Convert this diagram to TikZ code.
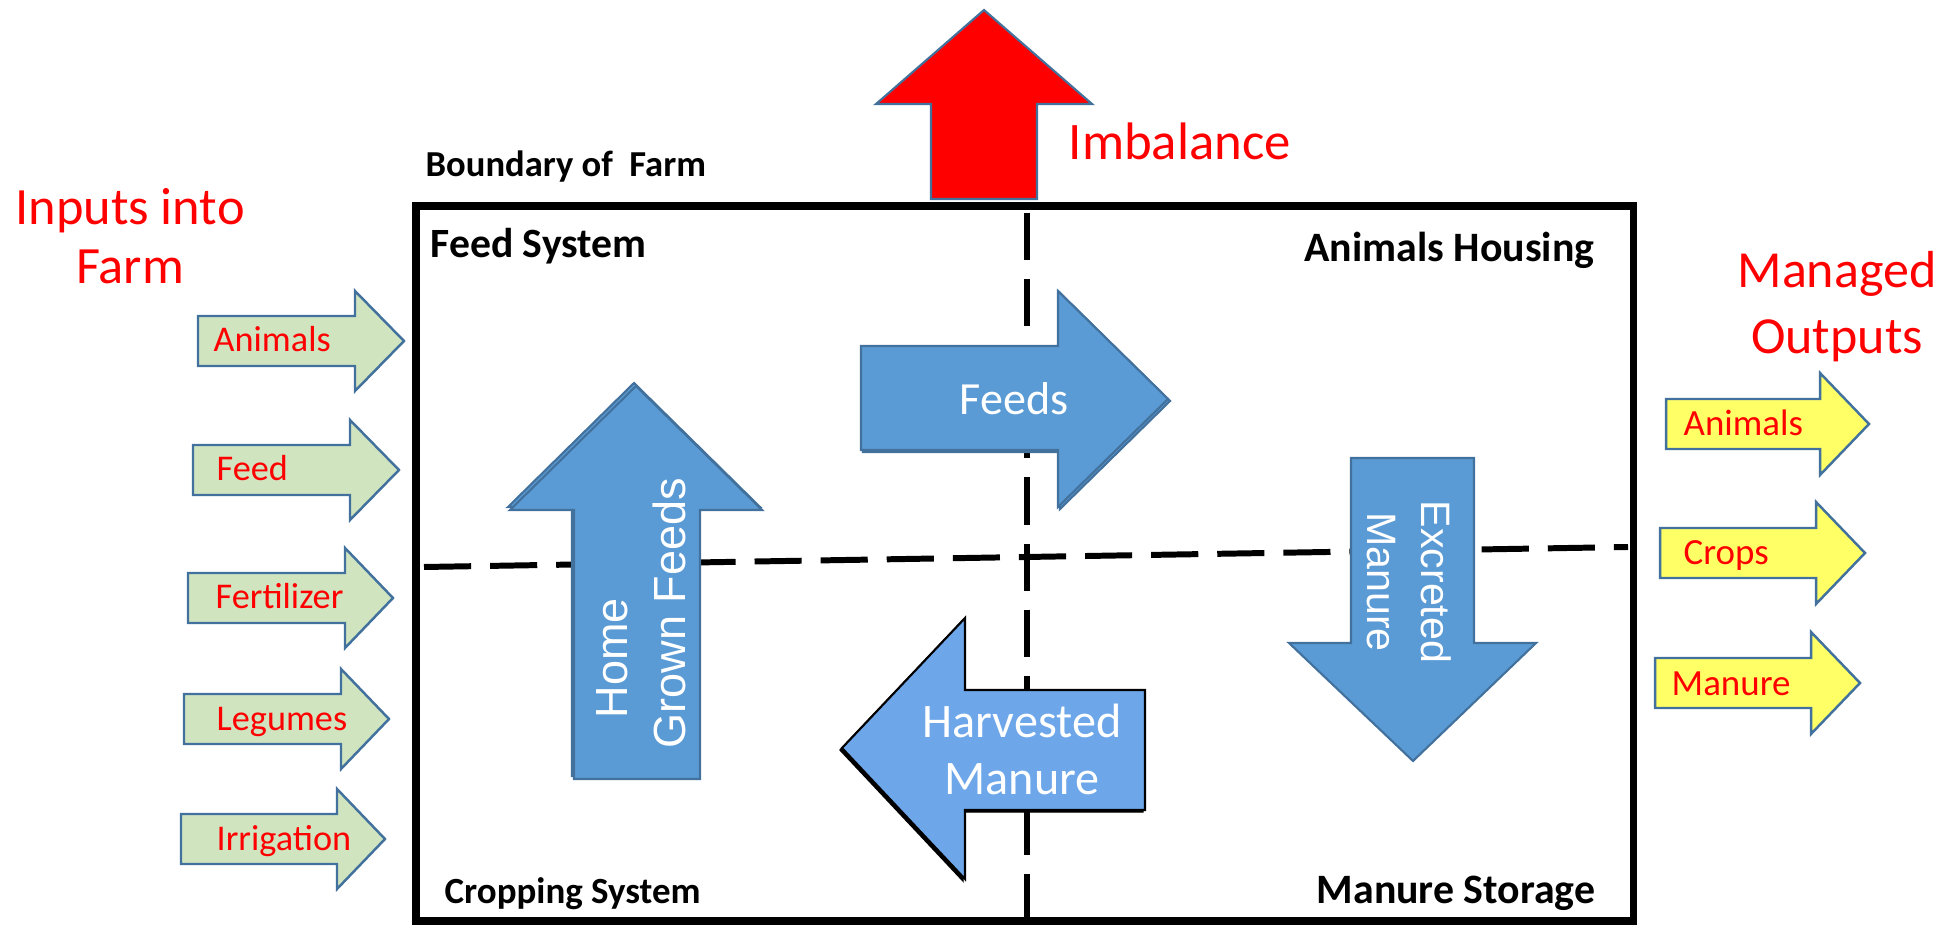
\documentclass[tikz,border=0pt]{standalone}
\usepackage{fontspec}
\setmainfont{Carlito}
\newfontfamily\arialfont{Liberation Sans}
\usepackage{tikz}

\definecolor{flowblue}{HTML}{5B9BD5}
\definecolor{flowedge}{HTML}{41719C}
\definecolor{manureblue}{HTML}{6DA7EA}
\definecolor{ingreen}{HTML}{D0E4C0}
\definecolor{outyellow}{HTML}{FFFF66}

\begin{document}
\begin{tikzpicture}[x=0.01cm, y=-0.01cm,
  inarrow/.style={draw=flowedge, fill=ingreen, line width=0.7pt},
  outarrow/.style={draw=flowedge, fill=outyellow, line width=0.7pt},
  flow/.style={draw=flowedge, fill=flowblue, line width=0.6pt},
  redlabel/.style={text=red, inner sep=0pt},
  zone/.style={font=\bfseries, inner sep=0pt},
  divider/.style={line width=1.7pt, dash pattern=on 13.4pt off 5.4pt}]
\useasboundingbox (0,0) rectangle (1949,925);

% dividing lines and boundary of the farm
\draw[divider] (1027,213) -- (1027,925);
\draw[divider] (424,567) -- (1628,547);
\draw[line width=2pt] (416,206) rectangle (1633,921);

\node[zone, anchor=base west, font=\bfseries\fontsize{10.4}{12}\selectfont] (boundary) at (425,177) {Boundary of~~Farm};
\node[zone, anchor=base west, font=\bfseries\fontsize{11.85}{14}\selectfont] (feedsys) at (430,258) {Feed System};
\node[zone, anchor=base east, font=\bfseries\fontsize{11.9}{14}\selectfont] (housing) at (1595,262) {Animals Housing};
\node[zone, anchor=base west, font=\bfseries\fontsize{10.5}{12}\selectfont] (cropsys) at (444,903) {Cropping System};
\node[zone, anchor=base east, font=\bfseries\fontsize{11.9}{14}\selectfont] (storage) at (1596,903) {Manure Storage};

% imbalance leaving the farm
\draw[draw=flowedge, fill=red, line width=0.6pt] (931,199) -- (931,104) -- (876,104) -- (984,10) -- (1092,104) -- (1037,104) -- (1037,199) -- cycle;
\node[redlabel, anchor=base west, font=\fontsize{15}{18}\selectfont] (imbalance) at (1068,160) {Imbalance};

% inputs (base anchor sits on the last line)
\node[redlabel, anchor=base, align=center, font=\fontsize{14.9}{17}\selectfont] (inputs) at (130,284) {Inputs into\\Farm};
\draw[inarrow] (198,316) -- (355,316) -- (355,291) -- (404,341) -- (355,391) -- (355,366) -- (198,366) -- cycle;
\draw[inarrow] (193,445) -- (350,445) -- (350,420) -- (399,470) -- (350,520) -- (350,495) -- (193,495) -- cycle;
\draw[inarrow] (188,573) -- (345,573) -- (345,548) -- (393,598) -- (345,648) -- (345,623) -- (188,623) -- cycle;
\draw[inarrow] (184,694) -- (341,694) -- (341,669) -- (389,719) -- (341,769) -- (341,744) -- (184,744) -- cycle;
\draw[inarrow] (181,814) -- (337,814) -- (337,789) -- (385,839) -- (337,889) -- (337,864) -- (181,864) -- cycle;
\node[redlabel, anchor=base west, font=\fontsize{10.3}{12}\selectfont] (inanimals) at (213,352) {Animals};
\node[redlabel, anchor=base west, font=\fontsize{10.3}{12}\selectfont] (infeed) at (216,481) {Feed};
\node[redlabel, anchor=base west, font=\fontsize{10.3}{12}\selectfont] (infert) at (215,609) {Fertilizer};
\node[redlabel, anchor=base west, font=\fontsize{10.3}{12}\selectfont] (inlegumes) at (216,730) {Legumes};
\node[redlabel, anchor=base west, font=\fontsize{10.3}{12}\selectfont] (inirrig) at (216,850) {Irrigation};

% managed outputs
\node[redlabel, anchor=base, align=center, font=\fontsize{14.8}{18.8}\selectfont] (outputs) at (1837,354) {Managed\\Outputs};
\draw[outarrow] (1666,399) -- (1820,399) -- (1820,373) -- (1869,424) -- (1820,475) -- (1820,449) -- (1666,449) -- cycle;
\draw[outarrow] (1660,528) -- (1816,528) -- (1816,502) -- (1865,553) -- (1816,604) -- (1816,578) -- (1660,578) -- cycle;
\draw[outarrow] (1655,658) -- (1811,658) -- (1811,632) -- (1860,683) -- (1811,734) -- (1811,708) -- (1655,708) -- cycle;
\node[redlabel, anchor=base west, font=\fontsize{10.5}{12}\selectfont] (outanimals) at (1683,436) {Animals};
\node[redlabel, anchor=base west, font=\fontsize{10.5}{12}\selectfont] (outcrops) at (1683,565) {Crops};
\node[redlabel, anchor=base west, font=\fontsize{10.5}{12}\selectfont] (outmanure) at (1671,695) {Manure};

% flows inside the farm
\draw[flow, shift={(2,2)}] (861,346) -- (1058,346) -- (1058,291) -- (1168,399) -- (1058,507) -- (1058,450) -- (861,450) -- cycle;
\draw[flow] (861,346) -- (1058,346) -- (1058,291) -- (1168,399) -- (1058,507) -- (1058,450) -- (861,450) -- cycle;
\node[text=white, anchor=base, inner sep=0pt, font=\fontsize{13.1}{15}\selectfont] (feeds) at (1014,415) {Feeds};

\draw[flow, shift={(-2,-3)}] (574,779) -- (574,510) -- (510,510) -- (636,386) -- (762,510) -- (700,510) -- (700,779) -- cycle;
\draw[flow] (574,779) -- (574,510) -- (510,510) -- (636,386) -- (762,510) -- (700,510) -- (700,779) -- cycle;
\node[text=white, rotate=90, anchor=base, inner sep=0pt, font=\arialfont\fontsize{12.8}{15}\selectfont] (home) at (627,658) {Home};
\node[text=white, rotate=90, anchor=base, inner sep=0pt, font=\arialfont\fontsize{12.8}{15}\selectfont] (grown) at (685,613) {Grown Feeds};

\draw[flow] (1351,458) -- (1474,458) -- (1474,643) -- (1536,643) -- (1413,761) -- (1289,643) -- (1351,643) -- cycle;
\node[text=white, rotate=-90, anchor=base, align=center, inner sep=0pt, font=\arialfont\fontsize{11.7}{15.6}\selectfont] (excreted) at (1367,582) {Excreted\\Manure};

\draw[fill=black, shift={(-2,2)}] (1145,690) -- (965,690) -- (965,618) -- (842,748) -- (965,879) -- (965,810) -- (1145,810) -- cycle;
\draw[fill=manureblue, line width=0.6pt] (1145,690) -- (965,690) -- (965,618) -- (842,748) -- (965,879) -- (965,810) -- (1145,810) -- cycle;
\node[text=white, anchor=base, align=center, inner sep=0pt, font=\fontsize{13.7}{16.2}\selectfont] (harvested) at (1022,794) {Harvested\\Manure};
\end{tikzpicture}
\end{document}
